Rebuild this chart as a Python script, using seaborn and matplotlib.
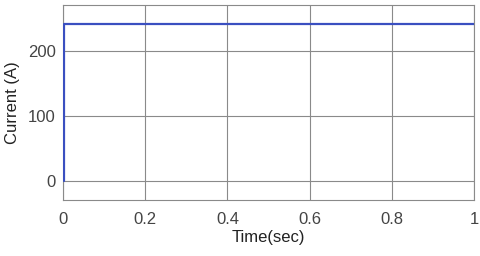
import numpy as np
import pandas as pd
import matplotlib
matplotlib.use('Agg')
import matplotlib.pyplot as plt
import matplotlib.transforms as mtransforms
import seaborn as sns

# current waveform (step at t=0 then constant)
time_sec = [0.0, 0.0, 1.0]
current_a = [0.0, 242.0, 242.0]
x_ticks = [0, 0.2, 0.4, 0.6, 0.8, 1]
y_ticks = [0, 100, 200]

df = pd.DataFrame({'Time': time_sec, 'Current': current_a})

sns.set_style('white')
plt.rcParams['font.family'] = ['Liberation Sans', 'DejaVu Sans']

fig = plt.figure(figsize=(4.8, 2.56), dpi=100)
ax = fig.add_axes([0.131, 0.219, 0.857, 0.761])

ax.set_xlim(0, 1)
ax.set_ylim(-29, 271)
ax.set_xticks(x_ticks)
ax.set_xticklabels(['0', '0.2', '0.4', '0.6', '0.8', '1'])
ax.set_yticks(y_ticks)
ax.grid(True, color='#8a8a8a', linewidth=0.8)
ax.tick_params(colors='#444444', labelsize=12, length=0)
ax.tick_params(axis='x', pad=9)
ax.tick_params(axis='y', pad=5)
for s in ax.spines.values():
    s.set_color('#8a8a8a')
    s.set_linewidth(0.8)

sns.lineplot(data=df, x='Time', y='Current', ax=ax, color='#3a4fc0', linewidth=1.6,
             sort=False, estimator=None)
line = ax.lines[-1]
line.set_zorder(5)
# nudge the step a pixel right of the spine so the rise at t=0 stays visible
line.set_transform(line.get_transform() + mtransforms.ScaledTranslation(1.2 / 100, 0, fig.dpi_scale_trans))

ax.set_xlabel('Time(sec)', fontsize=12, color='#222222', labelpad=2)
ax.set_ylabel('Current (A)', fontsize=12, color='#222222', labelpad=6)

fig.savefig('out.png', dpi=100)
